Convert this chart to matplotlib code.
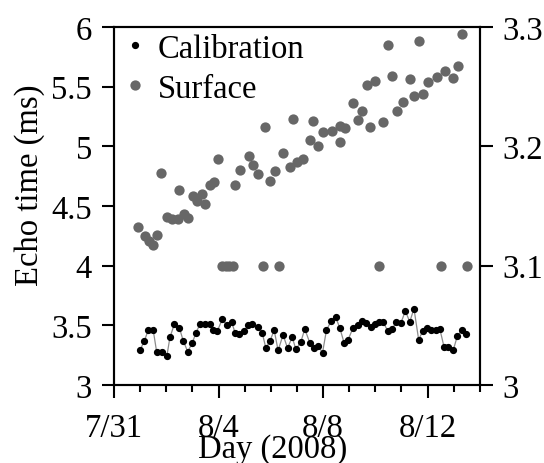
import matplotlib
matplotlib.use('Agg')
import matplotlib.pyplot as plt
from matplotlib.lines import Line2D
from matplotlib.ticker import FormatStrFormatter

plt.rcParams['font.family'] = ['Liberation Serif', 'DejaVu Serif']

# days after 7/31 (2008) and echo times in ms
calib_day = [0.99, 1.16, 1.31, 1.50, 1.63, 1.82, 2.02, 2.14, 2.31, 2.50,
             2.65, 2.82, 2.99, 3.14, 3.29, 3.48, 3.67, 3.80, 3.95, 4.14,
             4.33, 4.50, 4.63, 4.79, 4.98, 5.14, 5.30, 5.50, 5.67, 5.81,
             5.97, 6.13, 6.28, 6.47, 6.64, 6.82, 6.96, 7.15, 7.30, 7.50,
             7.65, 7.81, 7.98, 8.13, 8.32, 8.48, 8.64, 8.81, 8.96, 9.15,
             9.32, 9.50, 9.66, 9.83, 9.98, 10.15, 10.30, 10.48, 10.64, 10.81,
             10.98, 11.15, 11.32, 11.48, 11.66, 11.81, 11.98, 12.15, 12.31, 12.47,
             12.63, 12.78, 12.98, 13.14, 13.32, 13.49]
calib_ms = [3.29, 3.37, 3.46, 3.46, 3.28, 3.28, 3.24, 3.40, 3.51, 3.48,
            3.37, 3.28, 3.35, 3.44, 3.51, 3.51, 3.51, 3.46, 3.45, 3.55,
            3.50, 3.53, 3.44, 3.43, 3.45, 3.50, 3.51, 3.49, 3.44, 3.31,
            3.37, 3.46, 3.29, 3.42, 3.31, 3.40, 3.30, 3.36, 3.47, 3.35,
            3.31, 3.33, 3.27, 3.46, 3.54, 3.57, 3.48, 3.35, 3.38, 3.48,
            3.50, 3.54, 3.52, 3.49, 3.51, 3.53, 3.53, 3.45, 3.47, 3.53,
            3.52, 3.62, 3.53, 3.64, 3.38, 3.45, 3.48, 3.46, 3.46, 3.47,
            3.32, 3.32, 3.29, 3.41, 3.46, 3.43]

surf_day = [0.92, 1.19, 1.34, 1.49, 1.64, 1.80, 2.03, 2.22, 2.45, 2.49,
            2.68, 2.83, 3.02, 3.17, 3.37, 3.48, 3.67, 3.82, 3.98, 4.13,
            4.28, 4.40, 4.55, 4.63, 4.82, 5.16, 5.32, 5.51, 5.70, 5.77,
            5.97, 6.16, 6.31, 6.46, 6.73, 6.85, 7.00, 7.23, 7.50, 7.61,
            7.80, 7.99, 8.34, 8.64, 8.66, 8.83, 9.14, 9.33, 9.48, 9.67,
            9.79, 9.98, 10.13, 10.29, 10.48, 10.63, 10.82, 11.05, 11.32, 11.47,
            11.66, 11.82, 12.01, 12.35, 12.50, 12.66, 12.96, 13.15, 13.31, 13.50]
surf_ms = [4.32, 4.25, 4.21, 4.17, 4.26, 4.78, 4.41, 4.39, 4.39, 4.63,
           4.43, 4.40, 4.58, 4.54, 4.60, 4.52, 4.68, 4.70, 4.89, 4.00,
           4.00, 4.00, 4.00, 4.68, 4.80, 4.92, 4.84, 4.77, 4.00, 5.16,
           4.71, 4.79, 4.00, 4.94, 4.83, 5.23, 4.87, 4.89, 5.05, 5.21,
           5.00, 5.12, 5.13, 5.17, 5.04, 5.15, 5.36, 5.22, 5.30, 5.51,
           5.16, 5.55, 4.00, 5.20, 5.85, 5.59, 5.30, 5.37, 5.56, 5.42,
           5.88, 5.44, 5.54, 5.58, 4.00, 5.63, 5.57, 5.67, 5.94, 4.00]

tick_days = [0, 4, 8, 12]
tick_labels = ['7/31', '8/4', '8/8', '8/12']
right_ticks = [3, 3.1, 3.2, 3.3]

FS = 23.5
gray = '#676767'

fig = plt.figure(figsize=(5.44, 4.64), dpi=100)
ax = fig.add_axes([0.2096, 0.168, 0.6724, 0.7717])

ax.plot(calib_day, calib_ms, '-', color='#8c8c8c', linewidth=0.9, zorder=2)
ax.plot(calib_day, calib_ms, 'o', color='black', markersize=4.2, zorder=3)
ax.plot(surf_day, surf_ms, 'o', color=gray, markersize=7.4,
        markeredgewidth=0, zorder=1)

ax.set_xlim(0, 14)
ax.set_ylim(3, 6)
ax.set_xticks(tick_days)
ax.set_xticklabels(tick_labels)
ax.set_xticks(range(15), minor=True)
ax.set_yticks([3, 3.5, 4, 4.5, 5, 5.5, 6])
ax.yaxis.set_major_formatter(FormatStrFormatter('%g'))
ax.tick_params(which='major', direction='out', length=9, width=1.5,
               labelsize=FS, pad=7, top=False)
ax.tick_params(axis='x', which='major', pad=10.5)
ax.tick_params(which='minor', direction='out', length=5, width=1.5, top=False)
ax.tick_params(axis='y', which='minor', left=False)
for s in ax.spines.values():
    s.set_linewidth(1.5)

ax.set_xlabel('Day (2008)', fontsize=FS)
ax.xaxis.set_label_coords(0.434, -0.135)
ax.set_ylabel('Echo time (ms)', fontsize=FS)
ax.yaxis.set_label_coords(-0.19, 0.56)

ax2 = ax.twinx()
ax2.set_ylim(3, 3.3)
ax2.set_yticks(right_ticks)
ax2.yaxis.set_major_formatter(FormatStrFormatter('%g'))
ax2.tick_params(direction='out', length=9, width=1.5, labelsize=FS, pad=7)
for s in ax2.spines.values():
    s.set_linewidth(1.5)

handles = [Line2D([], [], linestyle='none', marker='o', color='black', markersize=4.2),
           Line2D([], [], linestyle='none', marker='o', color=gray,
                  markersize=7.4, markeredgewidth=0)]
ax.legend(handles, ['Calibration', 'Surface'], loc='upper left',
          bbox_to_anchor=(-0.059, 1.065), frameon=False, fontsize=FS,
          handlelength=0.8, handletextpad=0.3, labelspacing=0.3)

fig.savefig('out.png', dpi=100)
